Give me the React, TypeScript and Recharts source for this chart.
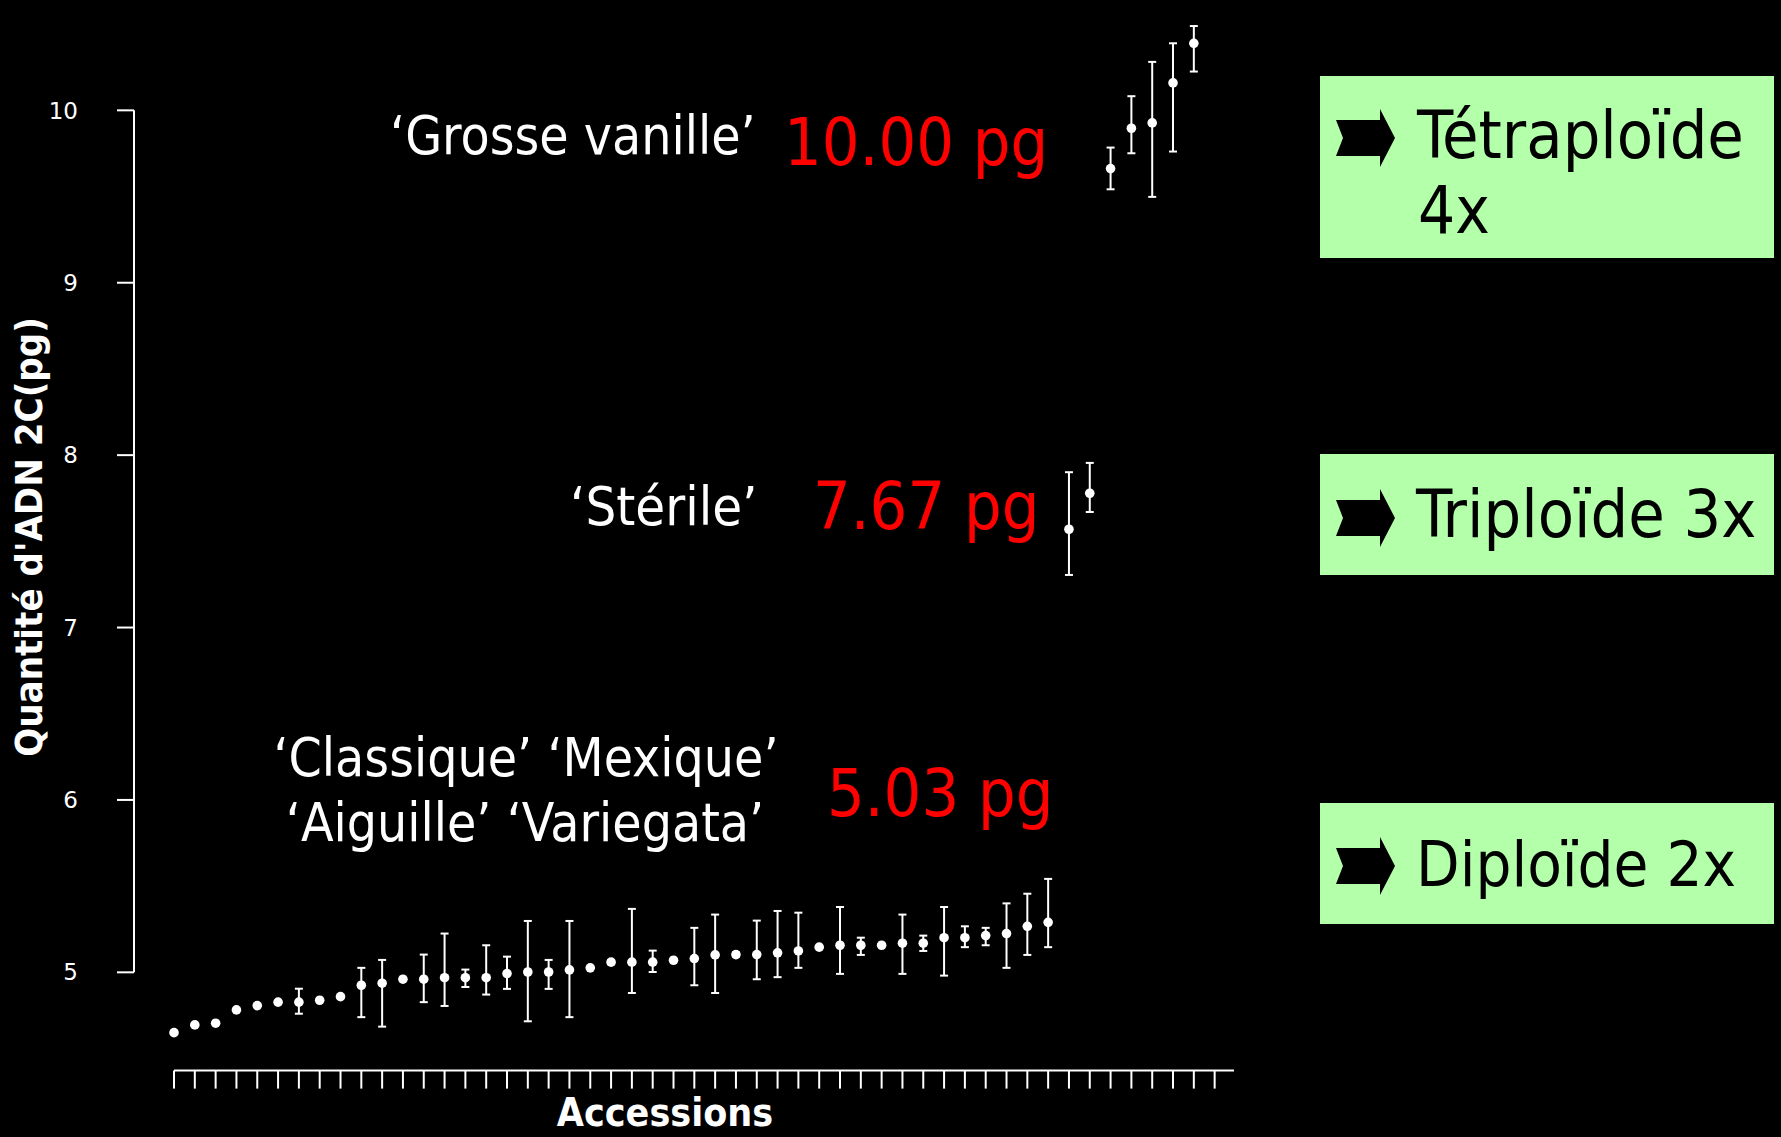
import React from "react";
import {
  ScatterChart,
  Scatter,
  XAxis,
  YAxis,
  ErrorBar,
  ReferenceLine,
} from "recharts";

// 2C DNA content (pg) per accession, sorted ascending
const dnaMeans = [
  4.650, 4.695, 4.705, 4.782, 4.807, 4.827, 4.827, 4.838, 4.859, 4.925,
  4.937, 4.960, 4.960, 4.969, 4.969, 4.969, 4.993, 5.002, 5.002, 5.014,
  5.026, 5.059, 5.059, 5.059, 5.070, 5.080, 5.101, 5.103, 5.103, 5.113,
  5.124, 5.146, 5.157, 5.157, 5.157, 5.169, 5.169, 5.201, 5.201, 5.213,
  5.225, 5.267, 5.290, 7.570, 7.779, 9.662, 9.896, 9.927, 10.159, 10.389,
];

// distance from the mean to the bottom / top of each error bar
const errLow = [
  0, 0, 0, 0, 0, 0, 0.067, 0, 0, 0.185,
  0.252, 0, 0.133, 0.164, 0.054, 0.098, 0.089, 0.286, 0.098, 0.274,
  0, 0.012, 0.179, 0.057, 0, 0.155, 0.221, 0.012, 0.143, 0.141,
  0.098, 0, 0.166, 0.056, 0, 0.178, 0.045, 0.220, 0.055, 0.056,
  0.199, 0.166, 0.144, 0.265, 0.109, 0.120, 0.145, 0.429, 0.398, 0.164,
];
const errHigh = [
  0, 0, 0, 0, 0, 0, 0.078, 0, 0, 0.101,
  0.135, 0, 0.143, 0.256, 0.047, 0.188, 0.098, 0.296, 0.070, 0.284,
  0, 0.012, 0.309, 0.067, 0, 0.178, 0.234, 0.012, 0.197, 0.243,
  0.222, 0, 0.222, 0.044, 0, 0.166, 0.044, 0.178, 0.066, 0.045,
  0.175, 0.189, 0.252, 0.331, 0.176, 0.122, 0.186, 0.354, 0.230, 0.100,
];

const xTicks = [
  1, 2, 3, 4, 5, 6, 7, 8, 9, 10, 11, 12, 13, 14, 15, 16, 17, 18, 19, 20,
  21, 22, 23, 24, 25, 26, 27, 28, 29, 30, 31, 32, 33, 34, 35, 36, 37, 38, 39, 40,
  41, 42, 43, 44, 45, 46, 47, 48, 49, 50, 51,
];
const yTicks = [5, 6, 7, 8, 9, 10];

const X_DOMAIN: [number, number] = [-0.922, 51.93];
const Y_DOMAIN: [number, number] = [4.43, 10.64];

const FONT = "'DejaVu Sans Condensed', 'DejaVu Sans', sans-serif";
const BOX_GREEN = "#b3ffaa";

const points = dnaMeans.map((y, i) => ({
  x: i + 1,
  y,
  err: [errLow[i], errHigh[i]],
}));

function Arrow({ cy }: { cy: number }) {
  const pts = [
    [1336, cy - 18],
    [1380, cy - 18],
    [1380, cy - 29],
    [1395, cy],
    [1380, cy + 29],
    [1380, cy + 18],
    [1336, cy + 18],
    [1343, cy],
  ]
    .map((p) => p.join(","))
    .join(" ");
  return <polygon points={pts} fill="#000" />;
}

// x ticks carry no labels, only the tick marks
const NoLabel = () => <g />;

export default function App() {
  const txt = { fontFamily: FONT, fontStretch: "condensed" as const };

  return (
    <div
      style={{
        position: "absolute",
        left: 0,
        top: 0,
        width: 1781,
        height: 1137,
        background: "#000",
        overflow: "hidden",
      }}
    >
      <ScatterChart
        width={1781}
        height={1137}
        margin={{ top: 0, right: 547, bottom: 0, left: 0 }}
      >
        <XAxis
          type="number"
          dataKey="x"
          domain={X_DOMAIN}
          ticks={xTicks}
          interval={0}
          allowDataOverflow
          axisLine={false}
          tick={NoLabel}
          tickLine={{ stroke: "#fff", strokeWidth: 2 }}
          tickSize={18}
          height={66.4}
        />
        <YAxis
          type="number"
          dataKey="y"
          domain={Y_DOMAIN}
          ticks={yTicks}
          interval={0}
          allowDataOverflow
          axisLine={false}
          tickLine={{ stroke: "#fff", strokeWidth: 2 }}
          tickSize={17}
          tickMargin={39}
          width={134}
          tick={{ fill: "#fff", fontSize: 23, fontFamily: "'DejaVu Sans', sans-serif" }}
        />
        <ReferenceLine
          segment={[
            { x: X_DOMAIN[0], y: 5 },
            { x: X_DOMAIN[0], y: 10 },
          ]}
          stroke="#fff"
          strokeWidth={2}
          ifOverflow="visible"
        />
        <ReferenceLine
          segment={[
            { x: 1, y: Y_DOMAIN[0] },
            { x: X_DOMAIN[1], y: Y_DOMAIN[0] },
          ]}
          stroke="#fff"
          strokeWidth={2}
          ifOverflow="visible"
        />
        <Scatter
          data={points}
          dataKey="y"
          fill="#fff"
          isAnimationActive={false}
          shape={(p: any) => <circle cx={p.cx} cy={p.cy} r={4.8} fill="#fff" />}
        >
          <ErrorBar
            dataKey="err"
            direction="y"
            width={4}
            stroke="#fff"
            strokeWidth={2}
            isAnimationActive={false}
          />
        </Scatter>
      </ScatterChart>

      <svg
        width={1781}
        height={1137}
        style={{ position: "absolute", left: 0, top: 0, pointerEvents: "none" }}
      >
        {/* axis titles */}
        <text
          x={42}
          y={537}
          transform="rotate(-90 42 537)"
          textAnchor="middle"
          fill="#fff"
          fontSize={38}
          fontWeight="bold"
          style={txt}
        >
          Quantité d'ADN 2C(pg)
        </text>
        <text x={665} y={1126} textAnchor="middle" fill="#fff" fontSize={39} fontWeight="bold" style={txt}>
          Accessions
        </text>

        {/* cultivar annotations */}
        <text x={390} y={154} fill="#fff" fontSize={53} style={txt}>
          ‘Grosse vanille’
        </text>
        <text x={784} y={165} fill="#ff0000" fontSize={66} style={txt}>
          10.00 pg
        </text>
        <text x={570} y={525} fill="#fff" fontSize={54} style={txt}>
          ‘Stérile’
        </text>
        <text x={813} y={529} fill="#ff0000" fontSize={66} style={txt}>
          7.67 pg
        </text>
        <text x={526} y={776} textAnchor="middle" fill="#fff" fontSize={53} style={txt}>
          ‘Classique’ ‘Mexique’
        </text>
        <text x={525} y={841} textAnchor="middle" fill="#fff" fontSize={53} style={txt}>
          ‘Aiguille’ ‘Variegata’
        </text>
        <text x={827} y={816} fill="#ff0000" fontSize={66} style={txt}>
          5.03 pg
        </text>

        {/* ploidy boxes */}
        <rect x={1320} y={76} width={454} height={182} fill={BOX_GREEN} />
        <Arrow cy={138} />
        <text x={1417} y={158} fill="#000" fontSize={66} style={txt}>
          Tétraploïde
        </text>
        <text x={1418} y={233} fill="#000" fontSize={65} style={txt}>
          4x
        </text>

        <rect x={1320} y={454} width={454} height={121} fill={BOX_GREEN} />
        <Arrow cy={518} />
        <text x={1416} y={537} fill="#000" fontSize={66} style={txt}>
          Triploïde 3x
        </text>

        <rect x={1320} y={803} width={454} height={121} fill={BOX_GREEN} />
        <Arrow cy={866} />
        <text x={1416} y={886} fill="#000" fontSize={63} style={txt}>
          Diploïde 2x
        </text>
      </svg>
    </div>
  );
}
